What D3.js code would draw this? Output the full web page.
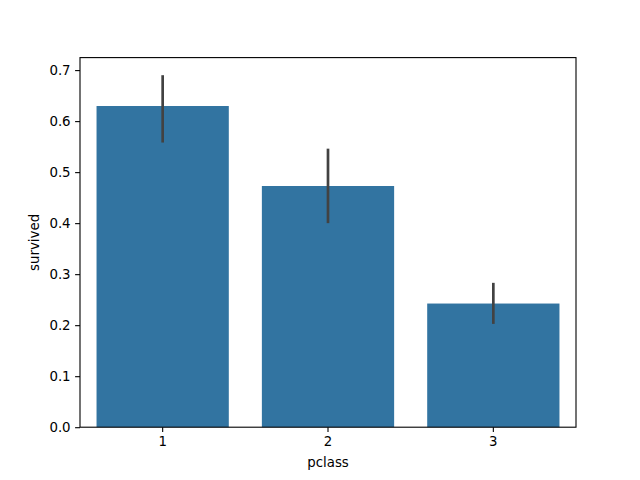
<!DOCTYPE html>
<html>
<head>
<meta charset="utf-8">
<script src="https://cdn.jsdelivr.net/npm/d3@7"></script>
<style>
body{margin:0;background:#fff;}
text{font-family:"DejaVu Sans",sans-serif;}
</style>
</head>
<body>
<div id="chart"></div>
<script>
// data
const classes = ["1", "2", "3"];
const survived = [0.6296, 0.4728, 0.2424];
const ciLow = [0.558, 0.400, 0.2025];
const ciHigh = [0.690, 0.546, 0.283];
const yTicks = [0.0, 0.1, 0.2, 0.3, 0.4, 0.5, 0.6, 0.7];

const W = 640, H = 480;
const axL = 80, axR = 576, axT = 57.6, axB = 427.2;

const svg = d3.select("#chart").append("svg")
  .attr("width", W).attr("height", H);

const x = d3.scaleBand().domain(classes).range([axL, axR]).paddingInner(0.2).paddingOuter(0.1);
const y = d3.scaleLinear().domain([0, d3.max(ciHigh) * 1.05]).range([axB, axT]);

// bars
svg.selectAll("rect.bar")
  .data(survived)
  .enter()
  .append("rect")
  .attr("class", "bar")
  .attr("x", (d, i) => x(classes[i]))
  .attr("y", d => y(d))
  .attr("width", x.bandwidth())
  .attr("height", d => y(0) - y(d))
  .attr("fill", "#3274a1");

// error bars
svg.selectAll("line.err")
  .data(classes)
  .enter()
  .append("line")
  .attr("class", "err")
  .attr("x1", d => x(d) + x.bandwidth() / 2)
  .attr("x2", d => x(d) + x.bandwidth() / 2)
  .attr("y1", (d, i) => y(ciLow[i]))
  .attr("y2", (d, i) => y(ciHigh[i]))
  .attr("stroke", "#424242")
  .attr("stroke-width", 2.7);

// axes
const xAxis = svg.append("g")
  .attr("transform", `translate(0,${axB})`)
  .call(d3.axisBottom(x).tickSize(4.9).tickPadding(4.5));
const yAxis = svg.append("g")
  .attr("transform", `translate(${axL},0)`)
  .call(d3.axisLeft(y).tickValues(yTicks).tickFormat(d3.format(".1f")).tickSize(4.9).tickPadding(4.5));

[xAxis, yAxis].forEach(g => {
  g.select(".domain").remove();
  g.selectAll(".tick line").attr("stroke", "#000").attr("stroke-width", 1.1);
  g.selectAll(".tick text").attr("font-size", "13.33px").attr("fill", "#000")
    .style("font-family", "'DejaVu Sans', sans-serif");
});

// frame
svg.append("rect")
  .attr("x", axL).attr("y", axT)
  .attr("width", axR - axL).attr("height", axB - axT)
  .attr("fill", "none").attr("stroke", "#000").attr("stroke-width", 1.1);

// labels
svg.append("text")
  .attr("x", (axL + axR) / 2).attr("y", 467)
  .attr("text-anchor", "middle").attr("font-size", "13.33px")
  .text("pclass");
svg.append("text")
  .attr("transform", `translate(39,${(axT + axB) / 2}) rotate(-90)`)
  .attr("text-anchor", "middle").attr("font-size", "13.33px")
  .text("survived");
</script>
</body>
</html>
